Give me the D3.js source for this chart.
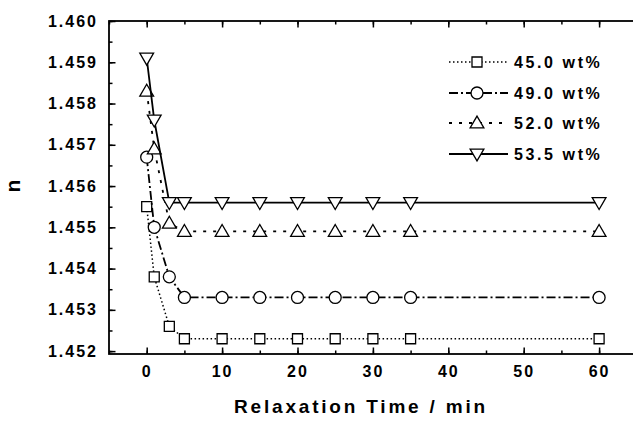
<!DOCTYPE html>
<html>
<head>
<meta charset="utf-8">
<script src="https://cdn.jsdelivr.net/npm/d3@7"></script>
<style>
  body { margin: 0; background: #fff; }
  svg { display: block; font-family: 'Liberation Sans', Arial, sans-serif; font-weight: bold; }
  .axis text { font-size: 16px; letter-spacing: 2px; fill: #000; }
  .axis path { display: none; }
  .axis line { stroke: #000; stroke-width: 1.5; }
</style>
</head>
<body>
<div id="chart"></div>
<script>
let times = [0, 1, 3, 5, 10, 15, 20, 25, 30, 35, 60]
let n450 = [1.4555, 1.4538, 1.4526, 1.4523, 1.4523, 1.4523, 1.4523, 1.4523, 1.4523, 1.4523, 1.4523]
let n490 = [1.4567, 1.4550, 1.4538, 1.4533, 1.4533, 1.4533, 1.4533, 1.4533, 1.4533, 1.4533, 1.4533]
let n520 = [1.4583, 1.4569, 1.4551, 1.4549, 1.4549, 1.4549, 1.4549, 1.4549, 1.4549, 1.4549, 1.4549]
let n535 = [1.4591, 1.4576, 1.4556, 1.4556, 1.4556, 1.4556, 1.4556, 1.4556, 1.4556, 1.4556, 1.4556]
let seriesNames = ['45.0 wt%', '49.0 wt%', '52.0 wt%', '53.5 wt%']
let xTicks = [0, 10, 20, 30, 40, 50, 60]
let yTicks = [1.452, 1.453, 1.454, 1.455, 1.456, 1.457, 1.458, 1.459, 1.460]

let width = 633
let height = 421

let svg = d3
  .select('#chart')
  .append('svg')
  .attr('width', width)
  .attr('height', height)

let xPositionScale = d3
  .scaleLinear()
  .domain([-5, 65])
  .range([109, 109 + 70 * 7.54])

let yPositionScale = d3
  .scaleLinear()
  .domain([1.45193, 1.46])
  .range([354, 21])

let series = [
  { name: seriesNames[0], values: n450, symbol: 'square', dash: '1.5,2.5', width: 1.5 },
  { name: seriesNames[1], values: n490, symbol: 'circle', dash: '9,3,2,3', width: 1.8 },
  { name: seriesNames[2], values: n520, symbol: 'up', dash: '3,7', width: 1.8 },
  { name: seriesNames[3], values: n535, symbol: 'down', dash: null, width: 1.8 }
]

function symbolPath(kind) {
  if (kind === 'square') return d3.symbol(d3.symbolSquare, 100)()
  if (kind === 'circle') return d3.symbol(d3.symbolCircle, 113)()
  return d3.symbol(d3.symbolTriangle, 82)()
}

function symbolTransform(kind, x, y) {
  if (kind === 'up') return 'translate(' + x + ',' + (y + 1) + ')'
  if (kind === 'down') return 'translate(' + x + ',' + (y - 1) + ') rotate(180)'
  return 'translate(' + x + ',' + y + ')'
}

// minor ticks
svg
  .append('g')
  .attr('class', 'axis')
  .attr('transform', 'translate(0,354)')
  .call(d3.axisBottom(xPositionScale).tickValues(d3.range(-5, 65, 5)).tickSize(-3.5).tickFormat(''))
svg
  .append('g')
  .attr('class', 'axis')
  .attr('transform', 'translate(0,21)')
  .call(d3.axisTop(xPositionScale).tickValues(d3.range(-5, 65, 5)).tickSize(-3.5).tickFormat(''))
svg
  .append('g')
  .attr('class', 'axis')
  .attr('transform', 'translate(109,0)')
  .call(d3.axisLeft(yPositionScale).tickValues(d3.range(1.452, 1.4601, 0.0005)).tickSize(-3.5).tickFormat(''))

// major ticks
let xAxis = d3
  .axisBottom(xPositionScale)
  .tickValues(xTicks)
  .tickSize(-6.5)
  .tickPadding(12)
  .tickFormat(d3.format('d'))
svg
  .append('g')
  .attr('class', 'axis x-axis')
  .attr('transform', 'translate(0,354)')
  .call(xAxis)

svg
  .append('g')
  .attr('class', 'axis')
  .attr('transform', 'translate(0,21)')
  .call(d3.axisTop(xPositionScale).tickValues(xTicks).tickSize(-6.5).tickFormat(''))

let yAxis = d3
  .axisLeft(yPositionScale)
  .tickValues(yTicks)
  .tickSize(-6.5)
  .tickPadding(11)
  .tickFormat(d3.format('.3f'))
svg
  .append('g')
  .attr('class', 'axis y-axis')
  .attr('transform', 'translate(109,0)')
  .call(yAxis)

// frame
svg
  .append('rect')
  .attr('x', xPositionScale(-5))
  .attr('y', yPositionScale(1.46))
  .attr('width', xPositionScale(65) - xPositionScale(-5))
  .attr('height', yPositionScale(1.45193) - yPositionScale(1.46))
  .attr('fill', 'none')
  .attr('stroke', '#000')
  .attr('stroke-width', 1.8)

// lines
let line = d3
  .line()
  .x((d, i) => xPositionScale(times[i]))
  .y(d => yPositionScale(d))

series.forEach(s => {
  svg
    .append('path')
    .datum(s.values)
    .attr('d', line)
    .attr('fill', 'none')
    .attr('stroke', '#000')
    .attr('stroke-width', s.width)
    .attr('stroke-dasharray', s.dash)

  svg
    .selectAll('.pt-' + s.symbol)
    .data(s.values)
    .enter()
    .append('path')
    .attr('class', 'pt-' + s.symbol)
    .attr('d', symbolPath(s.symbol))
    .attr('transform', (d, i) => symbolTransform(s.symbol, xPositionScale(times[i]), yPositionScale(d)))
    .attr('fill', '#fff')
    .attr('stroke', '#000')
    .attr('stroke-width', 1.3)
})

// legend
let legendY = [62, 93, 123, 154]
series.forEach((s, i) => {
  let g = svg.append('g').attr('transform', 'translate(0,' + legendY[i] + ')')
  g.append('line')
    .attr('x1', 449)
    .attr('x2', 508)
    .attr('stroke', '#000')
    .attr('stroke-width', s.width)
    .attr('stroke-dasharray', s.dash)
  g.append('path')
    .attr('d', symbolPath(s.symbol))
    .attr('transform', symbolTransform(s.symbol, 477, 0))
    .attr('fill', '#fff')
    .attr('stroke', '#000')
    .attr('stroke-width', 1.3)
  g.append('text')
    .attr('x', 514)
    .attr('y', 6)
    .attr('font-size', 16)
    .attr('letter-spacing', 2.6)
    .text(s.name)
})

// axis titles
svg
  .append('text')
  .attr('x', 361)
  .attr('y', 413)
  .attr('text-anchor', 'middle')
  .attr('font-size', 19)
  .attr('letter-spacing', 2.8)
  .text('Relaxation Time / min')

svg
  .append('text')
  .attr('transform', 'translate(20,186) rotate(-90)')
  .attr('text-anchor', 'middle')
  .attr('font-size', 21)
  .text('n')
</script>
</body>
</html>
